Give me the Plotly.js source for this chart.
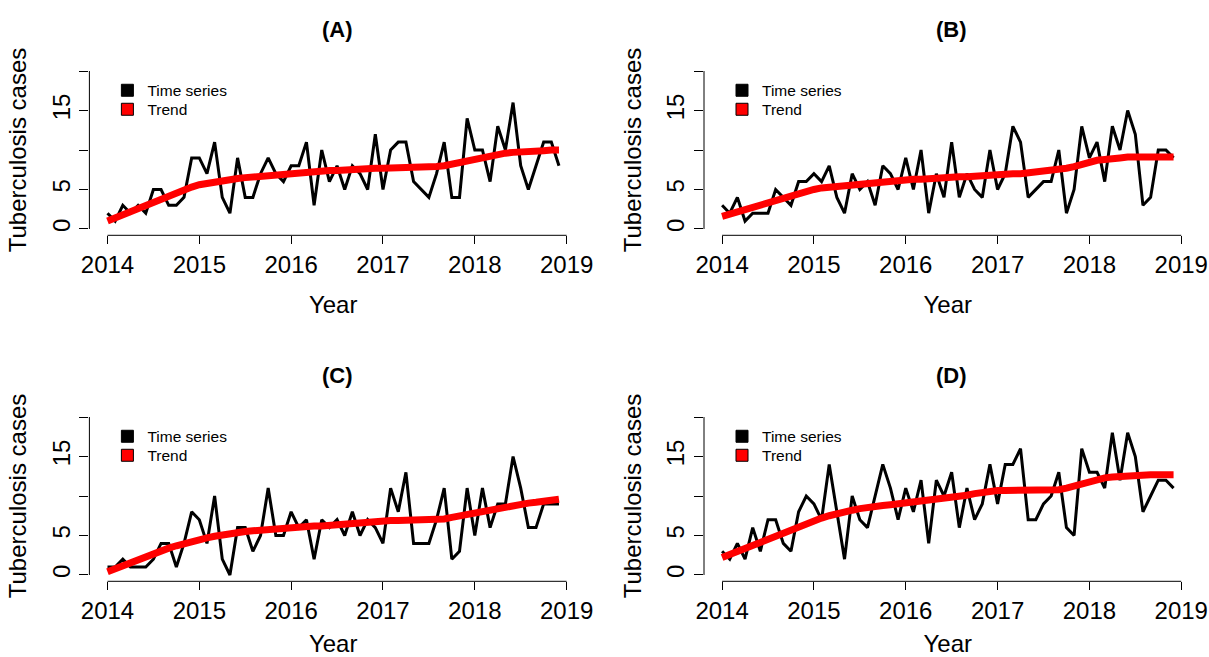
<!DOCTYPE html>
<html>
<head>
<meta charset="utf-8">
<script src="https://cdn.plot.ly/plotly-3.0.1.min.js"></script>
<style>html,body{margin:0;padding:0;background:#fff;}#chart{width:1209px;height:657px;}</style>
</head>
<body>
<div id="chart"></div>
<script>
// ---- Data (monthly tuberculosis cases, Jan 2014 - Dec 2018) ----
const startYear = 2014;
const panelTitles = ["(A)", "(B)", "(C)", "(D)"];
const seriesA = [2,1,3,2,3,2,5,5,3,3, 4,9,9,7,11,4,2,9,4,4, 7,9,7,6,8,8,11,3,10,6, 8,5,8,7,5,12,5,10,11,11, 6,5,4,7,11,4,4,14,10,10, 6,13,10,16,8,5,8,11,11,8];
const trendA  = [1.0,1.4,1.9,2.3,2.7,3.1,3.5,3.9,4.3,4.7, 5.0,5.3,5.6,5.8,6.0,6.2,6.3,6.4,6.5,6.6, 6.7,6.8,6.9,7.0,7.1,7.1,7.2,7.3,7.3,7.4, 7.4,7.5,7.5,7.6,7.6,7.7,7.7,7.7,7.7,7.7, 7.7,7.7,7.8,7.9,8.0,8.2,8.4,8.7,9.0,9.2, 9.4,9.5,9.6,9.7,9.7,9.8,9.9,9.9,10.0,10.0];
const seriesB = [3,2,4,1,2,2,2,5,4,3, 6,6,7,6,8,4,2,7,5,6, 3,8,7,5,9,5,10,2,7,4, 11,4,7,5,4,10,5,7,13,11, 4,5,6,6,10,2,5,13,9,11, 6,13,10,15,12,3,4,10,10,9];
const trendB  = [1.6,1.9,2.2,2.5,2.8,3.1,3.4,3.7,4.0,4.3, 4.5,4.8,5.0,5.2,5.3,5.5,5.6,5.7,5.8,5.9, 6.0,6.0,6.1,6.2,6.2,6.3,6.3,6.4,6.4,6.5, 6.5,6.6,6.6,6.7,6.8,6.8,6.9,7.0,7.0,7.0, 7.1,7.1,7.2,7.3,7.5,7.7,7.9,8.2,8.5,8.7, 8.8,9.0,9.0,9.1,9.1,9.2,9.2,9.2,9.2,9.1];
const seriesC = [1,1,2,1,1,1,2,4,4,1, 4,8,7,4,10,2,0,6,6,3, 5,11,5,5,8,6,7,2,7,6, 7,5,8,5,7,6,4,11,8,13, 4,4,4,7,11,2,3,11,5,11, 6,9,9,15,11,6,6,9,9,9];
const trendC  = [0.4,0.8,1.2,1.6,2.0,2.4,2.8,3.1,3.4,3.7, 4.0,4.3,4.5,4.7,4.9,5.1,5.3,5.4,5.5,5.6, 5.7,5.8,5.9,6.0,6.0,6.1,6.1,6.2,6.2,6.3, 6.4,6.5,6.6,6.7,6.8,6.8,6.9,6.9,6.9,6.9, 6.9,6.9,6.9,7.0,7.1,7.3,7.5,7.7,7.9,8.1, 8.3,8.5,8.7,8.8,8.9,9.1,9.2,9.3,9.5,9.6];
const seriesD = [3,2,4,2,6,3,7,7,4,3, 8,10,9,7,14,8,2,10,7,6, 10,14,11,7,11,8,12,4,12,10, 13,6,11,7,9,14,9,14,14,16, 7,7,9,10,13,6,5,16,13,13, 11,18,12,18,15,8,10,12,12,11];
const trendD  = [2.2,2.6,3.0,3.4,3.8,4.2,4.6,5.0,5.4,5.8, 6.2,6.6,6.9,7.2,7.5,7.8,8.0,8.2,8.4,8.6, 8.7,8.8,8.9,9.0,9.1,9.2,9.3,9.4,9.5,9.6, 9.7,9.9,10.1,10.3,10.5,10.6,10.7,10.7,10.7,10.7, 10.6,10.6,10.6,10.7,10.8,11.0,11.3,11.6,11.9,12.1, 12.3,12.4,12.5,12.6,12.6,12.6,12.7,12.7,12.7,12.7];
const xTickVals = [2014, 2015, 2016, 2017, 2018, 2019];
const xTickText = ["2014", "2015", "2016", "2017", "2018", "2019"];
const yTickVals = [0, 5, 10, 15, 20];
const yTickText = ["0", "5", "", "15", ""];
const legendNames = ["Time series", "Trend"];
const legendColors = ["#000000", "#ff0000"];

const seriesList = [seriesA, seriesB, seriesC, seriesD];
const trendList = [trendA, trendB, trendC, trendD];

// ---- Layout geometry (pixels) ----
const W = 1209, H = 657;
const FONT = "Liberation Sans, Arial, Helvetica, sans-serif";
const lefts = [89.4, 704.0];
const tops = [64.7, 410.7];
const pw = 487.6, ph = 170.6;

const data = [];
const layout = {
  width: W, height: H,
  margin: {l: 0, r: 0, t: 0, b: 0},
  paper_bgcolor: "#fff", plot_bgcolor: "#fff",
  font: {family: FONT, color: "#000"},
  showlegend: true,
  shapes: [], annotations: []
};

for (let p = 0; p < 4; p++) {
  const col = p % 2, row = Math.floor(p / 2);
  const L = lefts[col], T = tops[row];
  const sfx = p === 0 ? "" : String(p + 1);
  const xa = "x" + sfx, ya = "y" + sfx;
  const s = seriesList[p], tr = trendList[p];
  const t = s.map((_, i) => startYear + i / 12);

  data.push({type: "scatter", mode: "lines", x: t, y: s, xaxis: xa, yaxis: ya,
    line: {color: "#000", width: 3}, showlegend: false, hoverinfo: "x+y"});
  data.push({type: "scatter", mode: "lines", x: t, y: tr, xaxis: xa, yaxis: ya,
    line: {color: "#ff0000", width: 7}, showlegend: false, hoverinfo: "x+y"});

  // legend keys (R-style filled squares), one legend box per entry for exact spacing
  for (let k = 0; k < 2; k++) {
    const idx = 2 * p + k;
    const lg = idx === 0 ? "legend" : "legend" + (idx + 1);
    data.push({type: "scatter", mode: "markers", x: [null], y: [null], xaxis: xa, yaxis: ya,
      name: legendNames[k], legend: lg,
      marker: {symbol: "square", size: 12, color: legendColors[k], line: {color: "#000", width: 1}}});
    layout[lg] = {x: (L + 18) / W, y: 1 - (T + 9 + 19 * k) / H, xanchor: "left", yanchor: "top",
      bgcolor: "rgba(0,0,0,0)", borderwidth: 0, font: {size: 15.5, family: FONT, color: "#000"},
      tracegroupgap: 0, itemclick: false, itemdoubleclick: false};
  }

  layout["xaxis" + sfx] = {
    domain: [L / W, (L + pw) / W], range: [2013.803, 2019.113], anchor: ya,
    tickvals: xTickVals, ticktext: xTickText, ticks: "outside", ticklen: 8, tickwidth: 1, tickcolor: "#000",
    showline: false, zeroline: false, showgrid: false, fixedrange: true,
    tickfont: {size: 24, family: FONT, color: "#000"},
    title: {text: "Year", font: {size: 24, family: FONT, color: "#000"}, standoff: 19}
  };
  layout["yaxis" + sfx] = {
    domain: [1 - (T + ph) / H, 1 - T / H], range: [-0.8, 20.8], anchor: xa,
    tickvals: yTickVals, ticktext: yTickText, tickangle: -90, ticks: "outside", ticklen: 9, tickwidth: 1, tickcolor: "#000",
    showline: false, zeroline: false, showgrid: false, fixedrange: true,
    tickfont: {size: 24, family: FONT, color: "#000"},
    title: {text: "Tuberculosis cases", font: {size: 24, family: FONT, color: "#000"}, standoff: 14}
  };
  // R-style axis lines spanning first to last tick
  layout.shapes.push({type: "line", xref: xa, yref: ya + " domain",
    x0: xTickVals[0], x1: xTickVals[xTickVals.length - 1], y0: 0, y1: 0, line: {color: "#000", width: 1}});
  layout.shapes.push({type: "line", xref: xa + " domain", yref: ya,
    x0: 0, x1: 0, y0: yTickVals[0], y1: yTickVals[yTickVals.length - 1], line: {color: "#000", width: 1}});

  layout.annotations.push({text: "<b>" + panelTitles[p] + "</b>", xref: "paper", yref: "paper",
    x: (L + 247.6) / W, y: 1 - (T - 35) / H, xanchor: "center", yanchor: "middle", showarrow: false,
    font: {size: 22, family: FONT, color: "#000"}});
}

Plotly.newPlot("chart", data, layout, {displayModeBar: false, staticPlot: true});
</script>
</body>
</html>
